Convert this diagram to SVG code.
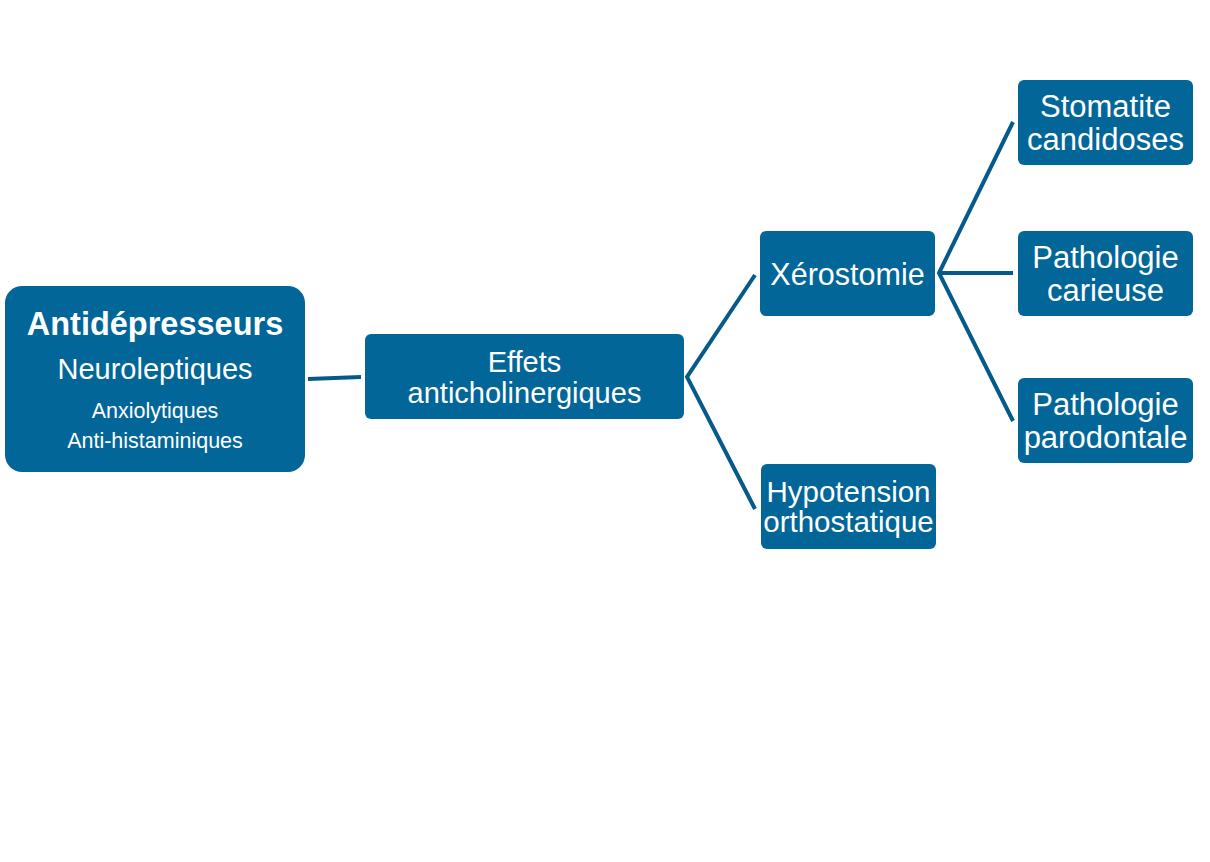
<svg xmlns="http://www.w3.org/2000/svg" width="1210" height="862" viewBox="0 0 1210 862">
<style>
.box{fill:#026699}
.t{font-family:"Liberation Sans",Arial,sans-serif;fill:#fff;text-anchor:middle}
.c{stroke:#055a8a;stroke-width:4;fill:none;stroke-linecap:butt;stroke-linejoin:miter}
</style>
<rect width="1210" height="862" fill="#fff"/>
<g id="connectors">
<line class="c" x1="308" y1="379" x2="361" y2="377"/>
<polyline class="c" points="755,275 687,377 755,509"/>
<polyline class="c" points="1013,122 939,273 1013,421"/>
<line class="c" x1="939" y1="273" x2="1013" y2="273"/>
</g>
<g id="root">
<rect class="box" x="5" y="286" width="300" height="186" rx="17"/>
<text class="t" x="155" y="335" font-size="32.5" font-weight="bold">Antidépresseurs</text>
<text class="t" x="155" y="379" font-size="29">Neuroleptiques</text>
<text class="t" x="155" y="418" font-size="21.5">Anxiolytiques</text>
<text class="t" x="155" y="448" font-size="21.5">Anti-histaminiques</text>
</g>
<g id="effets">
<rect class="box" x="365" y="334" width="319" height="85" rx="6"/>
<text class="t" x="524.5" y="372" font-size="29">Effets</text>
<text class="t" x="524.5" y="403" font-size="29">anticholinergiques</text>
</g>
<g id="xerostomie">
<rect class="box" x="760" y="231" width="175" height="85" rx="6"/>
<text class="t" x="847.5" y="285" font-size="30.5">Xérostomie</text>
</g>
<g id="hypotension">
<rect class="box" x="761" y="464" width="175" height="85" rx="6"/>
<text class="t" x="848.5" y="502" font-size="29.5">Hypotension</text>
<text class="t" x="848.5" y="532" font-size="29.5">orthostatique</text>
</g>
<g id="stomatite">
<rect class="box" x="1018" y="80" width="175" height="85" rx="6"/>
<text class="t" x="1105.5" y="117" font-size="31">Stomatite</text>
<text class="t" x="1105.5" y="150" font-size="31">candidoses</text>
</g>
<g id="carieuse">
<rect class="box" x="1018" y="231" width="175" height="85" rx="6"/>
<text class="t" x="1105.5" y="268" font-size="31">Pathologie</text>
<text class="t" x="1105.5" y="301" font-size="31">carieuse</text>
</g>
<g id="parodontale">
<rect class="box" x="1018" y="378" width="175" height="85" rx="6"/>
<text class="t" x="1105.5" y="415" font-size="31">Pathologie</text>
<text class="t" x="1105.5" y="448" font-size="31">parodontale</text>
</g>
</svg>
